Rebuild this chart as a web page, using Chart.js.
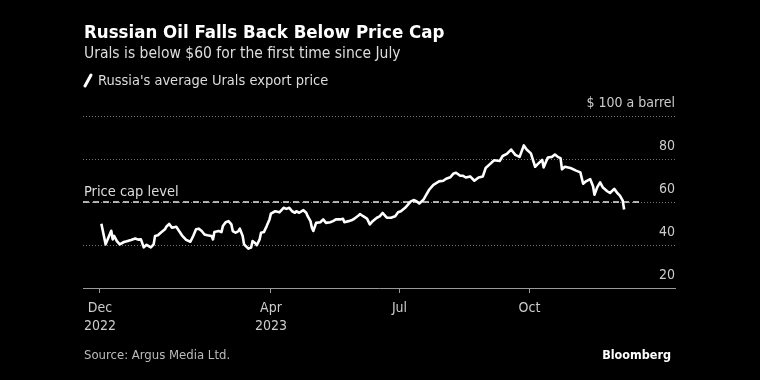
<!DOCTYPE html>
<html>
<head>
<meta charset="utf-8">
<script src="https://cdn.jsdelivr.net/npm/chart.js@4.4.0/dist/chart.umd.min.js"></script>
<style>
  html, body { margin: 0; padding: 0; background: #000; }
  #wrap { width: 760px; height: 380px; position: relative; }
</style>
</head>
<body>
<div id="wrap"><canvas id="chart" width="760" height="380"></canvas></div>
<script>
// days counted from 2022-12-01
const dayOffsets = [1,4,8,9,10,12,14,17,19,22,
  25,27,29,31,33,36,38,39,41,43,
  46,47,49,51,54,56,58,61,64,66,
  68,70,72,74,76,79,80,81,84,86,
  87,89,91,93,94,96,98,99,101,102,
  105,107,108,110,111,113,114,116,118,120,
  121,124,127,130,132,134,136,138,139,141,
  144,146,147,149,150,151,153,156,158,160,
  163,165,167,170,172,173,176,178,180,183,
  184,186,189,191,193,196,198,200,203,206,
  209,211,213,216,218,220,222,224,226,229,
  231,233,236,238,240,243,245,248,250,252,
  255,257,259,262,265,268,271,273,276,279,
  283,285,288,291,294,297,300,302,305,308,
  310,313,314,317,320,322,324,326,327,329,
  333,337,340,342,344,347,349,350,352,354,
  356,359,361,364,366,368,370,371];

// Urals export price, $ a barrel
const uralsPrice = [49.9,40.3,46.6,42.6,44.2,41.8,40.3,41.4,41.7,42.3,
  43.0,42.5,42.6,38.9,40.1,38.9,40.3,44.2,44.5,45.7,
  47.3,48.5,49.8,48.0,48.5,46.5,44.5,42.4,41.5,44.2,
  47.3,47.6,46.5,44.9,44.5,44.2,42.6,46.0,46.5,46.0,
  48.8,50.6,51.1,49.6,46.5,45.7,46.5,47.6,44.2,40.3,
  38.3,38.8,41.8,40.8,39.9,42.6,45.7,46.0,48.8,51.9,
  54.6,55.7,55.2,57.3,56.8,57.3,55.7,55.0,55.7,55.0,
  56.2,55.0,53.4,51.1,48.0,46.5,50.3,50.6,51.9,50.3,
  50.6,51.1,51.9,51.9,52.2,50.6,51.1,51.5,52.2,53.7,
  54.4,53.5,52.3,49.6,51.1,52.7,53.3,54.9,52.7,52.7,
  53.4,55.2,55.7,57.3,58.8,60.3,60.9,60.4,59.3,61.1,
  63.4,65.7,68.0,68.8,69.6,69.9,70.8,71.5,73.1,73.6,
  72.2,72.2,71.4,71.9,69.9,71.4,71.9,75.8,77.6,79.4,
  79.1,81.4,82.4,84.4,81.9,81.0,86.3,84.4,82.6,76.4,
  77.7,79.6,76.1,80.7,81.0,82.1,81.0,80.4,75.2,76.4,
  75.8,74.6,73.8,68.5,69.6,70.6,67.3,63.4,66.9,69.1,
  66.7,65.0,64.2,66.1,64.3,63.0,60.6,56.5];

const priceCap = 60;
const capDays = [-12, 382];
const tickDays = [0, 121, 212, 304];
const tickLabels = [['Dec', '2022'], ['Apr', '2023'], ['Jul'], ['Oct']];
const yTicks = [20, 40, 60, 80, 100];

const FONT = '"DejaVu Sans Condensed", "DejaVu Sans", sans-serif';

const textPlugin = {
  id: 'texts',
  beforeDraw(chart) {
    const ctx = chart.ctx;
    ctx.save();
    ctx.fillStyle = '#000';
    ctx.fillRect(0, 0, chart.width, chart.height);
    ctx.restore();
  },
  afterDraw(chart) {
    const ctx = chart.ctx;
    ctx.save();
    ctx.textBaseline = 'middle';
    ctx.textAlign = 'left';

    ctx.fillStyle = '#fff';
    ctx.font = 'bold 18.5px ' + FONT;
    ctx.fillText('Russian Oil Falls Back Below Price Cap', 84, 33);

    ctx.fillStyle = '#ddd';
    ctx.font = '15.5px ' + FONT;
    ctx.fillText('Urals is below $60 for the first time since July', 84, 54);

    // legend
    ctx.strokeStyle = '#fff';
    ctx.lineWidth = 3;
    ctx.lineCap = 'round';
    ctx.beginPath();
    ctx.moveTo(85, 86);
    ctx.lineTo(91, 75);
    ctx.stroke();
    ctx.fillStyle = '#ddd';
    ctx.font = '14.5px ' + FONT;
    ctx.fillText("Russia's average Urals export price", 98, 81);

    ctx.fillText('Price cap level', 84, 192);

    ctx.fillStyle = '#bbb';
    ctx.font = '13px ' + FONT;
    ctx.fillText('Source: Argus Media Ltd.', 84, 356);

    ctx.fillStyle = '#fff';
    ctx.textAlign = 'right';
    ctx.font = 'bold 12.5px ' + FONT;
    ctx.fillText('Bloomberg', 671, 356);
    ctx.restore();
  }
};

const points = dayOffsets.map((d, i) => ({ x: d, y: uralsPrice[i] }));
const capLine = capDays.map(d => ({ x: d, y: priceCap }));

new Chart(document.getElementById('chart'), {
  type: 'line',
  data: {
    datasets: [
      {
        data: points,
        borderColor: '#fff',
        borderWidth: 2.6,
        pointRadius: 0,
        borderJoinStyle: 'round',
        tension: 0
      },
      {
        data: capLine,
        borderColor: '#e6e6e6',
        borderWidth: 1.6,
        borderDash: [6, 4],
        pointRadius: 0
      }
    ]
  },
  options: {
    responsive: false,
    animation: false,
    devicePixelRatio: 1,
    layout: { padding: { left: 83, right: 85, top: 116, bottom: 40 } },
    plugins: { legend: { display: false }, tooltip: { enabled: false } },
    scales: {
      x: {
        type: 'linear',
        min: -12,
        max: 407,
        afterBuildTicks: s => { s.ticks = tickDays.map(v => ({ value: v })); },
        afterFit: s => { s.height = 52; },
        grid: { display: true, drawOnChartArea: false, drawTicks: true, tickLength: 5, color: '#999' },
        border: { display: true, color: '#999', width: 1 },
        ticks: {
          autoSkip: false,
          maxRotation: 0,
          padding: 6,
          color: '#ccc',
          font: { family: FONT, size: 14, lineHeight: 1.3 },
          callback: (v, i) => tickLabels[i]
        }
      },
      y: {
        position: 'right',
        min: 20,
        max: 100,
        afterBuildTicks: s => { s.ticks = yTicks.map(v => ({ value: v })); },
        afterFit: s => { s.width = 0; },
        grid: {
          drawTicks: false,
          color: c => (c.tick && c.tick.value === 20) ? 'rgba(0,0,0,0)' : '#777',
          lineWidth: 1
        },
        border: { display: false, dash: [1, 2] },
        ticks: {
          mirror: true,
          padding: 0,
          labelOffset: -13,
          color: '#ccc',
          font: { family: FONT, size: 14 },
          callback: v => v === 100 ? '$ 100 a barrel' : v
        }
      }
    }
  },
  plugins: [textPlugin]
});
</script>
</body>
</html>
